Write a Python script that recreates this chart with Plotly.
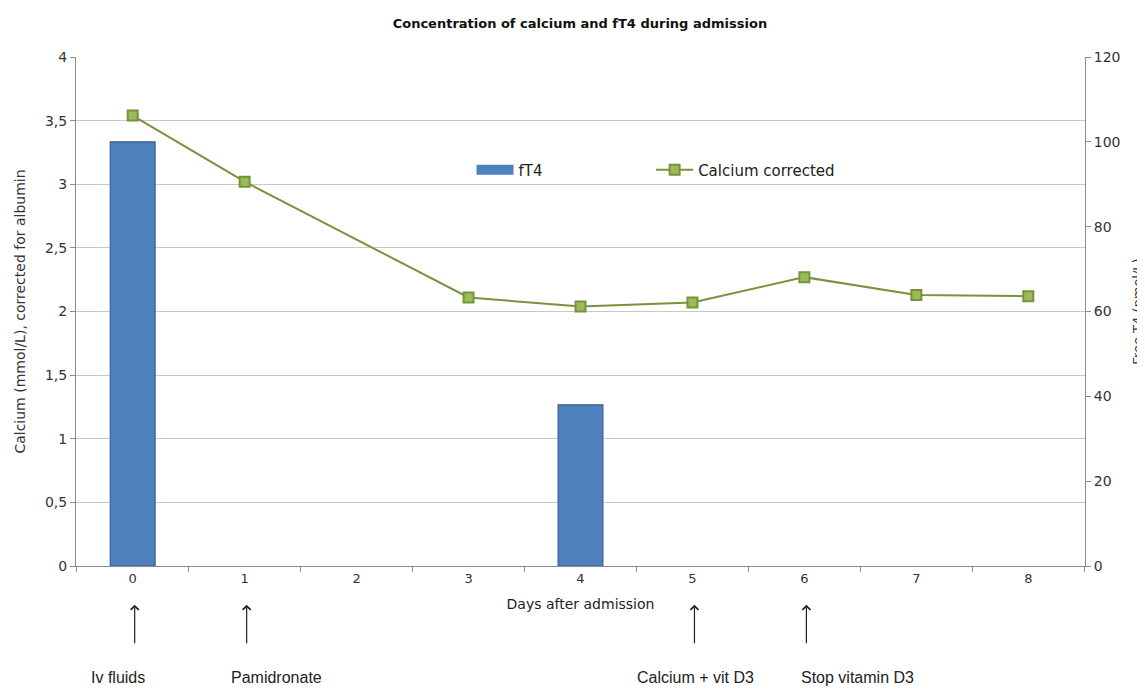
import plotly.graph_objects as go

days = ["0", "1", "2", "3", "4", "5", "6", "7", "8"]
ft4 = [100, None, None, None, 38, None, None, None, None]
calcium = [3.54, 3.02, None, 2.11, 2.04, 2.07, 2.27, 2.13, 2.12]
y_left_ticks = [0, 0.5, 1, 1.5, 2, 2.5, 3, 3.5, 4]
y_left_labels = ["0", "0,5", "1", "1,5", "2", "2,5", "3", "3,5", "4"]
events = [("0", "Iv fluids", -15), ("1", "Pamidronate", 32), ("5", "Calcium + vit D3", 3), ("6", "Stop vitamin D3", 53)]

FONT = "DejaVu Sans"
ARIAL = "Liberation Sans"
BLUE = "#4F81BD"
fig = go.Figure()
fig.add_trace(go.Bar(
    x=days, y=ft4, name="fT4", yaxis="y2", width=0.4, showlegend=False,
    marker=dict(color=BLUE, line=dict(color="#385D8A", width=1.2)),
))
# legend entry drawn as a wide rectangle like the reference
fig.add_trace(go.Scatter(
    x=[None], y=[None], name="fT4", mode="lines", yaxis="y2", legend="legend",
    line=dict(color=BLUE, width=10),
))
fig.add_trace(go.Scatter(
    x=days, y=calcium, name="Calcium corrected", mode="lines+markers",
    connectgaps=True, legend="legend2",
    line=dict(color="#77933C", width=2),
    marker=dict(symbol="square", size=10, color="#9BBB59", line=dict(color="#77933C", width=2)),
))

for d, label, shift in events:
    fig.add_annotation(x=d, xref="x", y=-0.076, yref="paper", ax=0, ay=40,
                       showarrow=True, arrowhead=4, arrowsize=1.3, arrowwidth=1.2,
                       arrowcolor="#222222", text="", xshift=2)
    fig.add_annotation(x=d, xref="x", y=-0.219, yref="paper", text=label,
                       showarrow=False, xshift=shift, yanchor="middle",
                       font=dict(family=ARIAL, size=16, color="#222222"))

legend_common = dict(orientation="h", y=0.778, xanchor="left", yanchor="middle",
                     bgcolor="rgba(0,0,0,0)", font=dict(size=15, color="#222222"),
                     itemwidth=37)

fig.update_layout(
    width=1137, height=681,
    margin=dict(l=68, r=60, t=49, b=123, autoexpand=False),
    paper_bgcolor="white", plot_bgcolor="white",
    title=dict(text="<b>Concentration of calcium and fT4 during admission</b>",
               x=0.503, xanchor="center", y=0.978, yanchor="middle",
               font=dict(family=FONT, size=13, color="#111111")),
    font=dict(family=FONT, size=12, color="#333333"),
    xaxis=dict(type="category", categoryorder="array", categoryarray=days,
               automargin=False,
               showline=True, linecolor="#8c8c8c", linewidth=1,
               ticks="outside", ticklen=5, tickcolor="#8c8c8c", tickson="boundaries",
               tickfont=dict(size=13, color="#333333"),
               title=dict(text="Days after admission", standoff=14,
                          font=dict(size=14, color="#222222"))),
    yaxis=dict(range=[0, 4], tickvals=y_left_ticks, ticktext=y_left_labels,
               automargin=False,
               showgrid=True, gridcolor="#c8c8c8", gridwidth=1,
               showline=True, linecolor="#8c8c8c", ticks="outside", ticklen=5,
               tickcolor="#8c8c8c", zeroline=False,
               tickfont=dict(size=14, color="#333333"),
               title=dict(text="Calcium (mmol/L), corrected for albumin", standoff=16,
                          font=dict(size=14, color="#333333"))),
    yaxis2=dict(range=[0, 120], dtick=20, overlaying="y", side="right",
                automargin=False,
                showgrid=False, showline=True, linecolor="#8c8c8c",
                ticks="outside", ticklen=5, tickcolor="#8c8c8c", zeroline=False,
                tickfont=dict(size=14, color="#333333"),
                title=dict(text="Free T4 (pmol/L)", standoff=32,
                           font=dict(size=13, color="#333333"))),
    legend=dict(x=0.392, **legend_common),
    legend2=dict(x=0.570, **legend_common),
    bargap=0.6,
)

fig.write_html("out.html")
